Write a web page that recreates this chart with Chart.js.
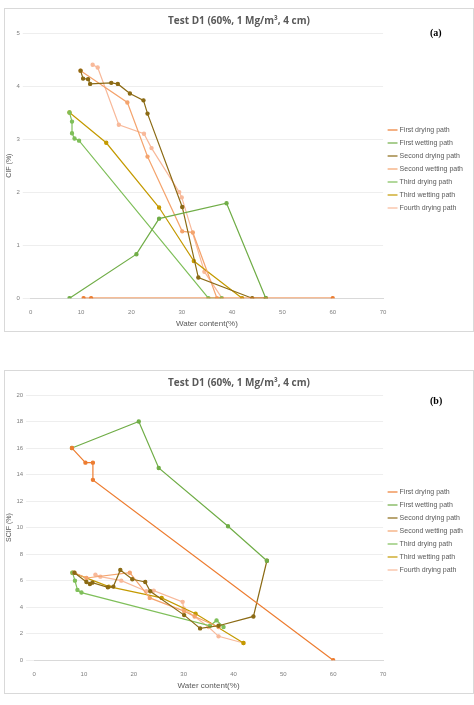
<!DOCTYPE html><html><head><script src="https://cdn.jsdelivr.net/npm/chart.js@4"></script>
<style>body{margin:0;background:#fff;font-family:"Open Sans",sans-serif}
.box{position:absolute;left:4px;width:468px;height:322px;border:1px solid #d9d9d9}
.lab{position:absolute;font:bold 10px "Liberation Serif",serif;color:#000}</style></head><body>
<div class="box" style="top:8px"><canvas id="c1"></canvas></div>
<div class="box" style="top:370px"><canvas id="c2"></canvas></div>
<div class="lab" style="left:430px;top:27px">(a)</div>
<div class="lab" style="left:430px;top:395px">(b)</div>
<script>
const names=["First drying path","First wetting path","Second drying path","Second wetting path","Third drying path","Third wetting path","Fourth drying path"];
const colors=["#ED7D31","#70AD47","#8B6A14","#F4A46E","#7FBF5A","#C49A00","#F8B99A"];
// CIF (a): [x water content, y]
const cifFirstDry=[[60,0],[12,0],[10.5,0]];
const cifFirstWet=[[7.7,0],[21,0.83],[25.5,1.5],[38.9,1.79],[46.7,0]];
const cifSecondDry=[[46.7,0],[44,0],[33.3,0.39],[30.1,1.72],[23.2,3.48],[22.4,3.73],[19.7,3.86],[17.3,4.04],[16,4.06],[11.8,4.04],[11.4,4.13],[10.4,4.14],[9.9,4.29]];
const cifSecondWet=[[9.9,4.29],[19.2,3.69],[23.2,2.67],[30.1,1.26],[32.2,1.24],[37,0]];
const cifThirdDry=[[37.9,0],[35.3,0],[9.6,2.97],[8.7,3.01],[8.2,3.11],[8.2,3.33],[7.7,3.5]];
const cifThirdWet=[[7.7,3.5],[15,2.93],[25.5,1.71],[32.4,0.7],[42,0]];
const cifFourthDry=[[12.3,4.4],[13.3,4.35],[17.5,3.27],[22.5,3.1],[24,2.83],[29.5,2.0],[30,1.9],[34.5,0.5],[38,0]];
// SCIF (b)
const scifFirstDry=[[60,0],[11.8,13.6],[11.8,14.9],[10.3,14.9],[7.6,16.0]];
const scifFirstWet=[[7.6,16],[21,18],[25,14.5],[38.9,10.1],[46.7,7.5]];
const scifSecondDry=[[46.7,7.5],[44,3.3],[37,2.6],[33.3,2.4],[30.1,3.4],[23.3,5.2],[22.3,5.9],[19.7,6.1],[17.3,6.8],[15.9,5.55],[14.8,5.5],[11.7,5.85],[11.2,5.75],[10.5,5.9],[8.1,6.6]];
const scifSecondWet=[[8.1,6.6],[10.5,6.2],[19.2,6.6],[23.2,4.7],[30.1,3.7],[32.2,3.3],[37,2.5]];
const scifThirdDry=[[38,2.5],[36.6,3.0],[35.3,2.6],[9.5,5.1],[8.7,5.3],[8.2,6.0],[7.7,6.6]];
const scifThirdWet=[[7.7,6.6],[15,5.55],[25.6,4.7],[32.4,3.5],[42,1.3]];
const scifFourthDry=[[12.3,6.45],[13.3,6.3],[17.5,6.0],[22.5,5.2],[24,5.25],[29.8,4.4],[30,3.9],[35,2.5],[37,1.8],[42,1.3]];
const xTicks=[0,10,20,30,40,50,60,70];
function mk(id,series,yMax,yStep,yTitle){
 new Chart(document.getElementById(id),{type:'line',
  data:{datasets:series.map((s,i)=>({label:names[i],data:s.map(p=>({x:p[0],y:p[1]})),borderColor:colors[i],backgroundColor:colors[i],borderWidth:1.2,pointRadius:1.6,pointStyle:'circle',tension:0}))},
  options:{animation:false,responsive:false,devicePixelRatio:1,
   layout:{padding:{left:0,right:0,top:0,bottom:2}},
   plugins:{title:{display:true,text:'Test D1 (60%, 1 Mg/m³, 4 cm)',color:'#595959',font:{family:'Open Sans',size:10,weight:'bold'},padding:{top:6,bottom:6}},
    legend:{position:'right',labels:{usePointStyle:true,pointStyle:'line',boxWidth:18,font:{size:7},color:'#595959',padding:6}}},
   scales:{x:{type:'linear',min:0,max:70,afterBuildTicks:a=>{a.ticks=xTicks.map(v=>({value:v}))},
     title:{display:true,text:'Water content(%)',color:'#595959',font:{size:8},padding:0},
     grid:{display:false},border:{color:'#d9d9d9'},ticks:{color:'#7f7f7f',font:{size:6}}},
    y:{min:0,max:yMax,ticks:{stepSize:yStep,color:'#7f7f7f',font:{size:6}},
     title:{display:true,text:yTitle,color:'#595959',font:{size:7},padding:0},
     grid:{color:'#eeeeee'},border:{display:false}}}}});
}
const c1=document.getElementById('c1'),c2=document.getElementById('c2');
[c1,c2].forEach(c=>{c.width=468;c.height=322});
mk('c1',[cifFirstDry,cifFirstWet,cifSecondDry,cifSecondWet,cifThirdDry,cifThirdWet,cifFourthDry],5,1,'CIF (%)');
mk('c2',[scifFirstDry,scifFirstWet,scifSecondDry,scifSecondWet,scifThirdDry,scifThirdWet,scifFourthDry],20,2,'SCIF (%)');
</script></body></html>
